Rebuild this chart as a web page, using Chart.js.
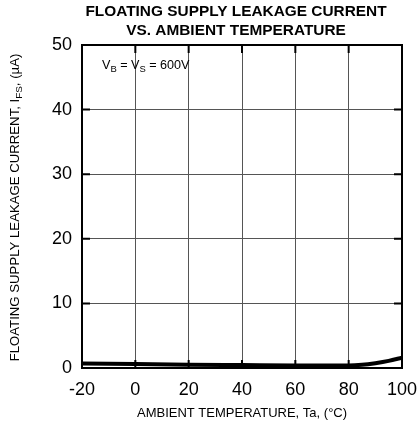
<!DOCTYPE html>
<html>
<head>
<meta charset="utf-8">
<script src="https://cdn.jsdelivr.net/npm/chart.js@4"></script>
<style>
    html, body { margin: 0; padding: 0; background: #fff; }
    canvas { display: block; }
</style>
</head>
<body>
<canvas id="leakageChart" width="418" height="423"></canvas>
<script>
const temperatures = [-20, 0, 20, 40, 60, 80, 85, 90, 95, 100];
const leakageCurrent = [0.7, 0.6, 0.5, 0.45, 0.4, 0.4, 0.5, 0.75, 1.1, 1.6];
const xTicks = [-20, 0, 20, 40, 60, 80, 100];
const yTicks = [0, 10, 20, 30, 40, 50];
const titleLines = ['FLOATING SUPPLY LEAKAGE CURRENT', 'VS. AMBIENT TEMPERATURE'];
const xTitle = 'AMBIENT TEMPERATURE, Ta, (°C)';
const yTitle = [['FLOATING SUPPLY LEAKAGE CURRENT, I', false], ['FS', true], [', (µA)', false]];
const note = [['V', false], ['B', true], [' = V', false], ['S', true], [' = 600V', false]];

const FONT = '"Liberation Sans", Arial, sans-serif';

// text with subscripts, runs = [text, isSub]
function runsWidth(ctx, runs, size) {
    let w = 0;
    runs.forEach(([txt, sub]) => {
        ctx.font = `${sub ? size * 0.75 : size}px ${FONT}`;
        w += ctx.measureText(txt).width;
    });
    return w;
}

function drawRuns(ctx, runs, x, y, size) {
    let cx = x;
    runs.forEach(([txt, sub]) => {
        ctx.font = `${sub ? size * 0.75 : size}px ${FONT}`;
        ctx.fillText(txt, cx, sub ? y + size * 0.3 : y);
        cx += ctx.measureText(txt).width;
    });
}

const chartDecor = {
    id: 'chartDecor',
    beforeDatasetsDraw(chart) {
        const { ctx, chartArea: a, scales: { x, y } } = chart;
        ctx.save();
        ctx.strokeStyle = '#000';
        ctx.lineWidth = 2;
        ctx.beginPath();
        x.ticks.forEach(t => {
            const px = x.getPixelForValue(t.value);
            ctx.moveTo(px, a.top); ctx.lineTo(px, a.top + 8);
            ctx.moveTo(px, a.bottom); ctx.lineTo(px, a.bottom - 8);
        });
        y.ticks.forEach(t => {
            const py = y.getPixelForValue(t.value);
            ctx.moveTo(a.left, py); ctx.lineTo(a.left + 8, py);
            ctx.moveTo(a.right, py); ctx.lineTo(a.right - 8, py);
        });
        ctx.stroke();
        ctx.strokeRect(a.left, a.top, a.right - a.left, a.bottom - a.top);
        ctx.restore();
    },
    afterDraw(chart) {
        const { ctx, chartArea: a } = chart;
        const mid = (a.left + a.right) / 2;
        ctx.save();
        ctx.fillStyle = '#000';

        // title
        ctx.font = `bold 14px ${FONT}`;
        ctx.textAlign = 'center';
        ctx.textBaseline = 'alphabetic';
        titleLines.forEach((line, i) => {
            ctx.save();
            ctx.translate(mid - 6, 16 + i * 19);
            ctx.scale(1.1, 1);
            ctx.fillText(line, 0, 0);
            ctx.restore();
        });

        // x title
        ctx.font = `13px ${FONT}`;
        ctx.fillText(xTitle, mid, 417);

        // y title, rotated
        ctx.textAlign = 'left';
        const ySize = 13.2;
        const yw = runsWidth(ctx, yTitle, ySize);
        ctx.save();
        ctx.translate(18.5, (a.top + a.bottom) / 2 + 1);
        ctx.rotate(-Math.PI / 2);
        drawRuns(ctx, yTitle, -yw / 2, 0, ySize);
        ctx.restore();

        // condition note
        drawRuns(ctx, note, a.left + 20, 68.5, 12.6);
        ctx.restore();
    }
};

const ctx = document.getElementById('leakageChart').getContext('2d');
new Chart(ctx, {
    type: 'line',
    data: {
        labels: temperatures,
        datasets: [{
            data: temperatures.map((t, i) => ({ x: t, y: leakageCurrent[i] })),
            borderColor: '#000',
            borderWidth: 4,
            pointRadius: 0,
            cubicInterpolationMode: 'monotone',
            fill: false,
        }],
    },
    options: {
        responsive: false,
        animation: false,
        devicePixelRatio: 1,
        layout: { padding: { top: 45, right: 16, left: 0, bottom: 0 } },
        plugins: {
            legend: { display: false },
            title: { display: false },
            tooltip: { enabled: false },
        },
        scales: {
            x: {
                type: 'linear',
                min: -20,
                max: 100,
                afterBuildTicks: s => { s.ticks = xTicks.map(v => ({ value: v })); },
                afterFit: s => { s.height = 55; s.paddingLeft = 0; s.paddingRight = 0; },
                ticks: { color: '#000', font: { family: FONT, size: 18 }, padding: 11, maxRotation: 0 },
                grid: { color: '#555', lineWidth: 1, drawTicks: false },
                border: { display: false },
            },
            y: {
                min: 0,
                max: 50,
                afterBuildTicks: s => { s.ticks = yTicks.map(v => ({ value: v })); },
                afterFit: s => { s.width = 82; s.paddingTop = 0; s.paddingBottom = 0; },
                ticks: { color: '#000', font: { family: FONT, size: 18 }, padding: 10 },
                grid: { color: '#555', lineWidth: 1, drawTicks: false },
                border: { display: false },
            },
        },
    },
    plugins: [chartDecor],
});
</script>
</body>
</html>
